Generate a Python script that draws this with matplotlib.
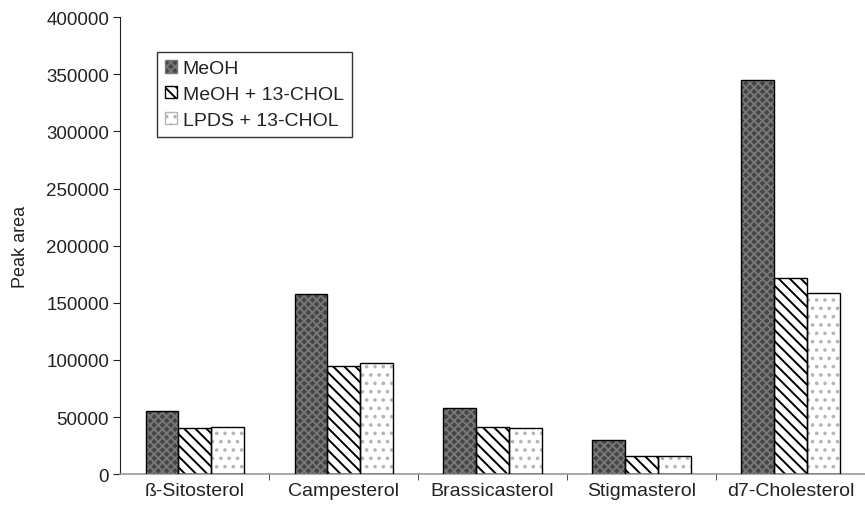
import matplotlib.pyplot as plt
import matplotlib.patches as mpatches
import numpy as np

plt.rcParams['font.family'] = ['Liberation Sans', 'DejaVu Sans']
plt.rcParams['hatch.linewidth'] = 1.4

sterols = ["ß-Sitosterol", "Campesterol", "Brassicasterol", "Stigmasterol", "d7-Cholesterol"]
series_names = ["MeOH", "MeOH + 13-CHOL", "LPDS + 13-CHOL"]
meoh = [55000, 158000, 58000, 30000, 345000]
meoh_chol = [40000, 94500, 41000, 16000, 172000]
lpds_chol = [41000, 97000, 40500, 16000, 159000]

# fill, hatch, hatch colour per series
styles = [
    ("#444444", "xxxx", "#777777"),
    ("white", "\\\\\\", "black"),
    ("white", "..", "#b5b5b5"),
]

fig = plt.figure(figsize=(8.65, 5.06), dpi=100)
ax = fig.add_axes([0.139, 0.061, 0.861, 0.903])

x = np.arange(len(sterols))
w = 0.22
handles = []
for i, vals in enumerate([meoh, meoh_chol, lpds_chol]):
    fc, hatch, hc = styles[i]
    pos = x + (i - 1) * w
    ax.bar(pos, vals, w, color=fc, hatch=hatch, edgecolor=hc, linewidth=0, zorder=2)
    ax.bar(pos, vals, w, fill=False, edgecolor="black", linewidth=1.0, zorder=3)
    handles.append(mpatches.Patch(facecolor=fc, hatch=hatch, edgecolor=hc))

ax.set_xlim(-0.5, 4.5)
ax.set_ylim(0, 400000)
ax.set_yticks(np.arange(0, 400001, 50000))
ax.tick_params(axis="y", labelsize=13.5, direction="out", length=5, colors="#222222", pad=3)
ax.set_xticks(x)
ax.set_xticklabels(sterols, fontsize=14, color="#222222")
ax.tick_params(axis="x", length=0, pad=6)
ax.set_xticks(np.arange(0.5, 4.5, 1), minor=True)
ax.tick_params(axis="x", which="minor", length=4, direction="out", color="#333333")
ax.set_ylabel("Peak area", fontsize=13, labelpad=12, color="#222222")

for s in ["top", "right"]:
    ax.spines[s].set_visible(False)
ax.spines["left"].set_color("#222222")
ax.spines["bottom"].set_color("#999999")
ax.spines["bottom"].set_linewidth(1.2)

leg = ax.legend(handles, series_names, loc="upper left", bbox_to_anchor=(0.05, 0.923),
                fontsize=14, frameon=True, fancybox=False, edgecolor="black",
                handlelength=0.6, handleheight=0.6, handletextpad=0.3, borderpad=0.4,
                labelspacing=0.45, borderaxespad=0)
leg.get_frame().set_linewidth(1.0)
for t in leg.get_texts():
    t.set_color("#222222")

fig.savefig("out.png", dpi=100)
